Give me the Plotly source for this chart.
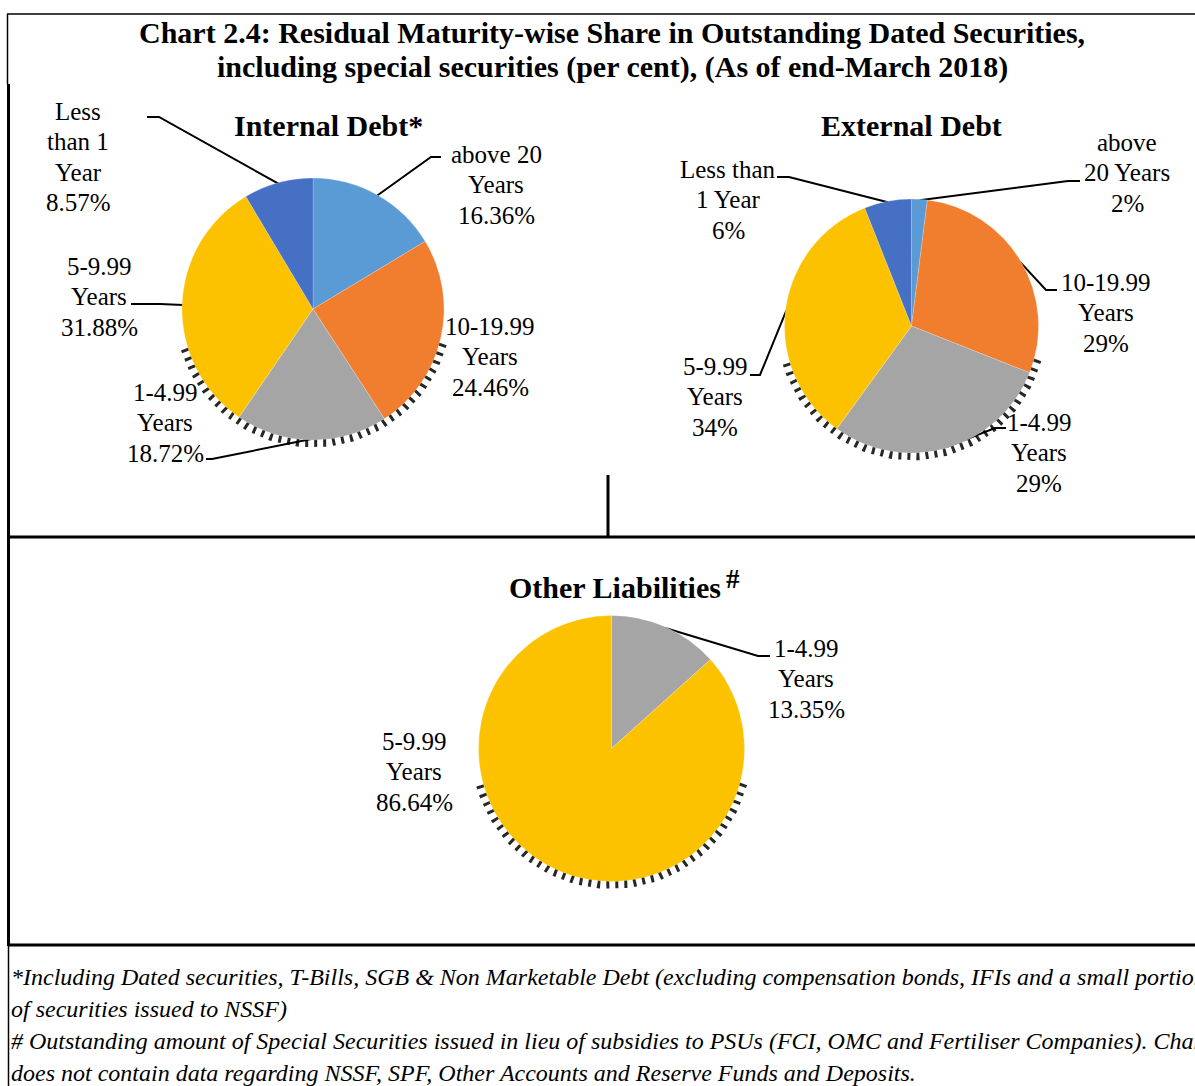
import math
import plotly.graph_objects as go

# ---- data -------------------------------------------------------------
categories = ["above 20 Years", "10-19.99 Years", "1-4.99 Years",
              "5-9.99 Years", "Less than 1 Year"]
internal_values = [16.36, 24.46, 18.72, 31.88, 8.57]
external_values = [2, 29, 29, 34, 6]
other_categories = ["1-4.99 Years", "5-9.99 Years"]
other_values = [13.35, 86.64]

main_title = ["Chart 2.4: Residual Maturity-wise Share in Outstanding Dated Securities,",
              "including special securities (per cent), (As of end-March 2018)"]
footnotes = [
    "*Including Dated securities, T-Bills, SGB & Non Marketable Debt (excluding compensation bonds, IFIs and a small portion",
    "of securities issued to NSSF)",
    "# Outstanding amount of Special Securities issued in lieu of subsidies to PSUs (FCI, OMC and Fertiliser Companies). Chart",
    "does not contain data regarding NSSF, SPF, Other Accounts and Reserve Funds and Deposits.",
]

# ---- styling ----------------------------------------------------------
W, H = 1195, 1086
SERIF = "Liberation Serif, Times New Roman, serif"
colors = {
    "above 20 Years": "#5B9BD5",
    "10-19.99 Years": "#F07E2E",
    "1-4.99 Years": "#A5A5A5",
    "5-9.99 Years": "#FCC200",
    "Less than 1 Year": "#4570C4",
}
LABEL_SIZE = 25
LINE_STEP = 30.5

# pie geometry in page pixels: centre x, centre y, radius
pies = {
    "internal": dict(cx=313, cy=309, r=131, cats=categories, vals=internal_values, fmt="{:.2f}%"),
    "external": dict(cx=911.5, cy=326, r=127, cats=categories, vals=external_values, fmt="{:.0f}%"),
    "other": dict(cx=611.5, cy=748.5, r=133, cats=other_categories, vals=other_values, fmt="{:.2f}%"),
}

# label layout: first-line centre, split lines of the category name, leader elbow
label_layout = {
    "internal": {
        "Less than 1 Year": ((78, 111), ["Less", "than 1", "Year"], [(147, 117), (159, 117)]),
        "above 20 Years": ((496, 154), ["above 20", "Years"], [(441, 157), (431, 157)]),
        "10-19.99 Years": ((490, 326), ["10-19.99", "Years"], None),
        "1-4.99 Years": ((165, 392), ["1-4.99", "Years"], [(206, 459), (212, 459)]),
        "5-9.99 Years": ((99, 266), ["5-9.99", "Years"], [(131, 304), (160, 304)]),
    },
    "external": {
        "Less than 1 Year": ((728, 169), ["Less than", "1 Year"], [(777, 177), (789, 177)]),
        "above 20 Years": ((1127, 142), ["above", "20 Years"], [(1080, 181), (1068, 181)]),
        "10-19.99 Years": ((1106, 282), ["10-19.99", "Years"], [(1057, 290), (1046, 290)]),
        "1-4.99 Years": ((1039, 422), ["1-4.99", "Years"], [(1006, 428), (995, 428)]),
        "5-9.99 Years": ((715, 366), ["5-9.99", "Years"], [(750, 375), (760, 375)]),
    },
    "other": {
        "1-4.99 Years": ((806, 648), ["1-4.99", "Years"], [(770, 656), (758, 656)]),
        "5-9.99 Years": ((414, 741), ["5-9.99", "Years"], None),
    },
}


def mid_angles(vals):
    """Clockwise angle from 12 o'clock (degrees) of each slice's middle."""
    total = sum(vals)
    out, acc = [], 0.0
    for v in vals:
        out.append((acc + v / 2) / total * 360.0)
        acc += v
    return out


def edge_point(p, ang, extra=0.0):
    a = math.radians(ang)
    rr = p["r"] + extra
    return p["cx"] + rr * math.sin(a), p["cy"] - rr * math.cos(a)


fig = go.Figure()

# dotted rim shadow under the lower half of each pie
for p in pies.values():
    angs = [105 + i * 1.0 for i in range(151)]
    pts = [edge_point(p, a, 3) for a in angs]
    fig.add_trace(go.Scatter(
        x=[q[0] for q in pts], y=[q[1] for q in pts], mode="lines",
        line=dict(color="rgba(0,0,0,0.85)", width=9, dash="3px,6px"),
        hoverinfo="skip", showlegend=False, xaxis="x", yaxis="y"))

# pies
for key, p in pies.items():
    x0, x1 = (p["cx"] - p["r"]) / W, (p["cx"] + p["r"]) / W
    y0, y1 = 1 - (p["cy"] + p["r"]) / H, 1 - (p["cy"] - p["r"]) / H
    fig.add_trace(go.Pie(
        labels=p["cats"], values=p["vals"], sort=False, direction="clockwise",
        rotation=0, textinfo="none", hoverinfo="label+percent",
        marker=dict(colors=[colors[c] for c in p["cats"]],
                    line=dict(color="rgba(255,255,255,0.4)", width=0.5)),
        domain=dict(x=[x0, x1], y=[y0, y1]), showlegend=False, name=key))

annotations = []
# leader lines and data labels
for key, p in pies.items():
    for cat, val, ang in zip(p["cats"], p["vals"], mid_angles(p["vals"])):
        (lx, ly), lines, leader = label_layout[key][cat]
        lines = lines + [p["fmt"].format(val)]
        for i, t in enumerate(lines):
            annotations.append(dict(
                x=lx, y=ly + i * LINE_STEP, xref="x", yref="y", text=t,
                showarrow=False, xanchor="center", yanchor="middle",
                font=dict(family=SERIF, size=LABEL_SIZE, color="black")))
        if leader:
            ex, ey = edge_point(p, ang, -1)
            xs = [q[0] for q in leader] + [ex]
            ys = [q[1] for q in leader] + [ey]
            fig.add_trace(go.Scatter(
                x=xs, y=ys, mode="lines", line=dict(color="black", width=2),
                hoverinfo="skip", showlegend=False, xaxis="x", yaxis="y"))

# titles
for i, t in enumerate(main_title):
    annotations.append(dict(
        x=612, y=32 + i * 35, xref="x", yref="y", text=f"<b>{t}</b>",
        showarrow=False, xanchor="center", yanchor="middle",
        font=dict(family=SERIF, size=30, color="black")))
for t, x, y in [("Internal Debt*", 328, 125), ("External Debt", 911.5, 125),
                ("Other Liabilities", 615, 587)]:
    annotations.append(dict(
        x=x, y=y, xref="x", yref="y", text=f"<b>{t}</b>", showarrow=False,
        xanchor="center", yanchor="middle",
        font=dict(family=SERIF, size=30, color="black")))
annotations.append(dict(
    x=733, y=579, xref="x", yref="y", text="<b>#</b>", showarrow=False,
    xanchor="center", yanchor="middle",
    font=dict(family=SERIF, size=27, color="black")))

# footnotes
for i, t in enumerate(footnotes):
    annotations.append(dict(
        x=9, y=977 + i * 32, xref="x", yref="y", text=f"<i>{t}</i>",
        showarrow=False, xanchor="left", yanchor="middle",
        font=dict(family=SERIF, size=24, color="black")))

# panel frame
frame = [
    ((7, 14), (1195, 14), 1.5),
    ((7.5, 14), (7.5, 84), 1.5),
    ((8.5, 84), (8.5, 946), 3),
    ((8, 537), (1195, 537), 3),
    ((608, 475), (608, 537), 3),
    ((8, 945), (1195, 945), 3),
    ((8.5, 945), (8.5, 1086), 1.5),
]
shapes = [dict(type="line", xref="x", yref="y", x0=a[0], y0=a[1], x1=b[0], y1=b[1],
               line=dict(color="black", width=w)) for a, b, w in frame]

fig.update_layout(
    width=W, height=H, margin=dict(l=0, r=0, t=0, b=0),
    paper_bgcolor="white", plot_bgcolor="rgba(0,0,0,0)",
    xaxis=dict(range=[0, W], visible=False, domain=[0, 1], fixedrange=True),
    yaxis=dict(range=[H, 0], visible=False, domain=[0, 1], fixedrange=True),
    annotations=annotations, shapes=shapes, showlegend=False,
)

fig.write_html("out.html")
